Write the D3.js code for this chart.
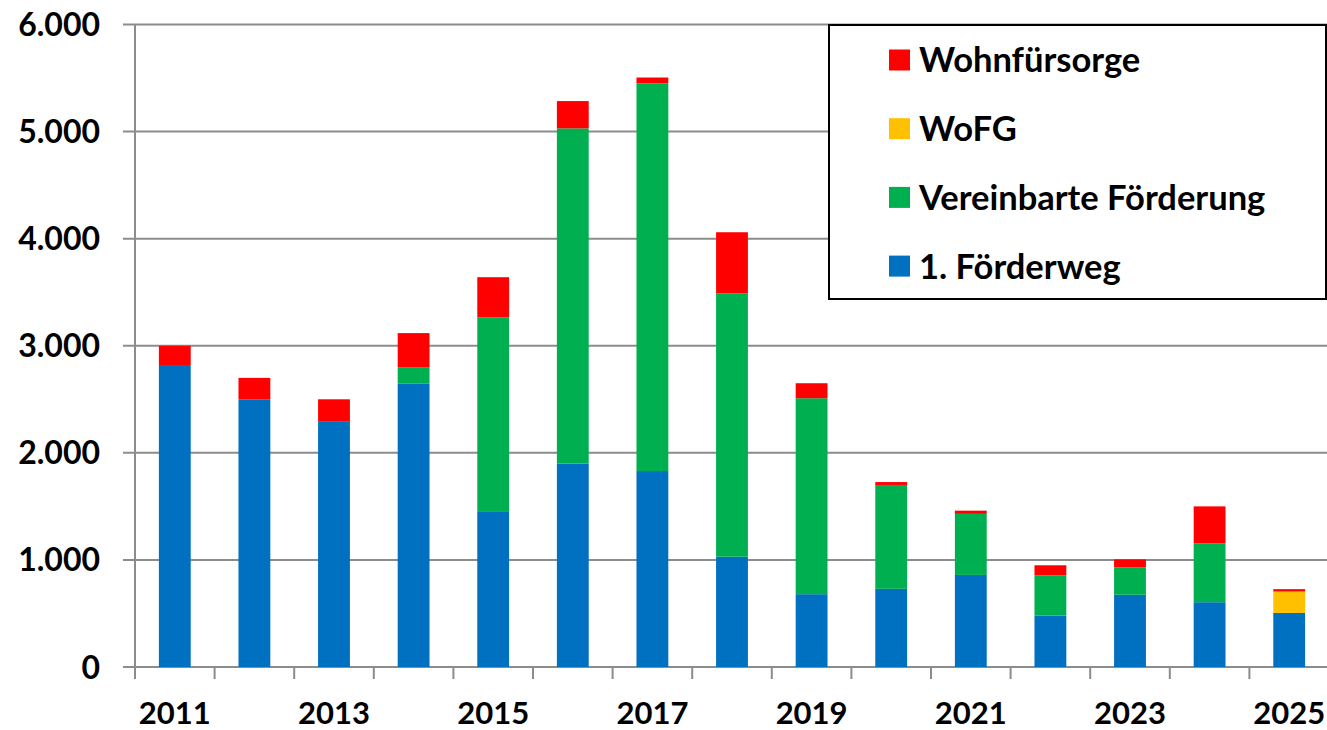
<!DOCTYPE html>
<html><head><meta charset="utf-8">
<script src="https://cdn.jsdelivr.net/npm/d3@7"></script>
<style>html,body{margin:0;padding:0;background:#fff;}svg{display:block;font-family:Lato,"Open Sans",sans-serif;font-weight:bold;}</style>
</head><body>
<svg id="chart" width="1327" height="730"></svg>
<script>
const years = [2011,2012,2013,2014,2015,2016,2017,2018,2019,2020,2021,2022,2023,2024,2025];
const foerderweg1 = [2820,2500,2290,2645,1455,1900,1830,1030,680,730,860,480,675,605,505];
const vereinbarte = [0,0,0,155,1810,3130,3620,2460,1830,970,570,375,255,550,0];
const wofg = [0,0,0,0,0,0,0,0,0,0,0,0,0,0,200];
const wohnfuersorge = [180,200,210,318,375,255,55,570,140,27,30,95,75,345,22];
const seriesNames = ["1. Förderweg","Vereinbarte Förderung","WoFG","Wohnfürsorge"];
const seriesColors = ["#0070C0","#00B050","#FFC000","#FF0000"];
const yTicks = [0,1000,2000,3000,4000,5000,6000];
const xLabelYears = [2011,2013,2015,2017,2019,2021,2023,2025];

const svg = d3.select("#chart");
const pLeft = 135, pRight = 1329, pTop = 24.5, pBottom = 667;
const x = d3.scaleBand().domain(years).range([pLeft, pRight]).paddingInner(0.6).paddingOuter(0.3);
const y = d3.scaleLinear().domain([0,6000]).range([pBottom, pTop]);
const grid = "#8c8c8c";
const fmt = v => d3.format(",")(v).replace(/,/g, ".");

// gridlines
svg.append("g").selectAll("line").data(yTicks).join("line")
  .attr("x1", 123).attr("x2", 1327)
  .attr("y1", d => y(d)).attr("y2", d => y(d))
  .attr("stroke", grid).attr("stroke-width", 2);
// y axis line
svg.append("line").attr("x1", pLeft).attr("x2", pLeft).attr("y1", y(6000)).attr("y2", pBottom)
  .attr("stroke", grid).attr("stroke-width", 2);
// x ticks at category boundaries
const step = x.step();
const bounds = years.map(d => x(d) - (step - x.bandwidth())/2).concat([pRight]);
svg.append("g").selectAll("line").data(bounds).join("line")
  .attr("x1", d => d).attr("x2", d => d).attr("y1", pBottom).attr("y2", 679)
  .attr("stroke", grid).attr("stroke-width", 2);

// y labels
svg.append("g").selectAll("text").data(yTicks).join("text")
  .attr("x", 100).attr("y", d => y(d)).attr("dy", "0.36em")
  .attr("text-anchor", "end").attr("font-size", 32).attr("fill", "#000")
  .text(d => fmt(d));
// x labels
svg.append("g").selectAll("text").data(xLabelYears).join("text")
  .attr("x", d => x(d) + x.bandwidth()/2).attr("y", 724)
  .attr("text-anchor", "middle").attr("font-size", 31).attr("fill", "#000")
  .text(d => d);

// stacked bars
const rows = years.map((yr, i) => ({year: yr, s0: foerderweg1[i], s1: vereinbarte[i], s2: wofg[i], s3: wohnfuersorge[i]}));
const stack = d3.stack().keys(["s0","s1","s2","s3"])(rows);
svg.append("g").selectAll("g").data(stack).join("g")
  .attr("fill", (d, i) => seriesColors[i])
  .selectAll("rect").data(d => d.filter(p => p[1] - p[0] > 0)).join("rect")
  .attr("x", d => x(d.data.year)).attr("width", x.bandwidth())
  .attr("y", d => y(d[1])).attr("height", d => y(d[0]) - y(d[1]));

// legend
const lg = svg.append("g");
lg.append("rect").attr("x", 829).attr("y", 25).attr("width", 497).attr("height", 274)
  .attr("fill", "#fff").attr("stroke", "#000").attr("stroke-width", 2);
const legendOrder = [3,2,1,0];
legendOrder.forEach((si, j) => {
  const cy = 60 + j * 68.7;
  lg.append("rect").attr("x", 889).attr("y", cy - 10.5).attr("width", 21).attr("height", 21).attr("fill", seriesColors[si]);
  lg.append("text").attr("x", 919).attr("y", cy).attr("dy", "0.36em").attr("font-size", 34.5).attr("fill", "#000").text(seriesNames[si]);
});
</script>
</body></html>
